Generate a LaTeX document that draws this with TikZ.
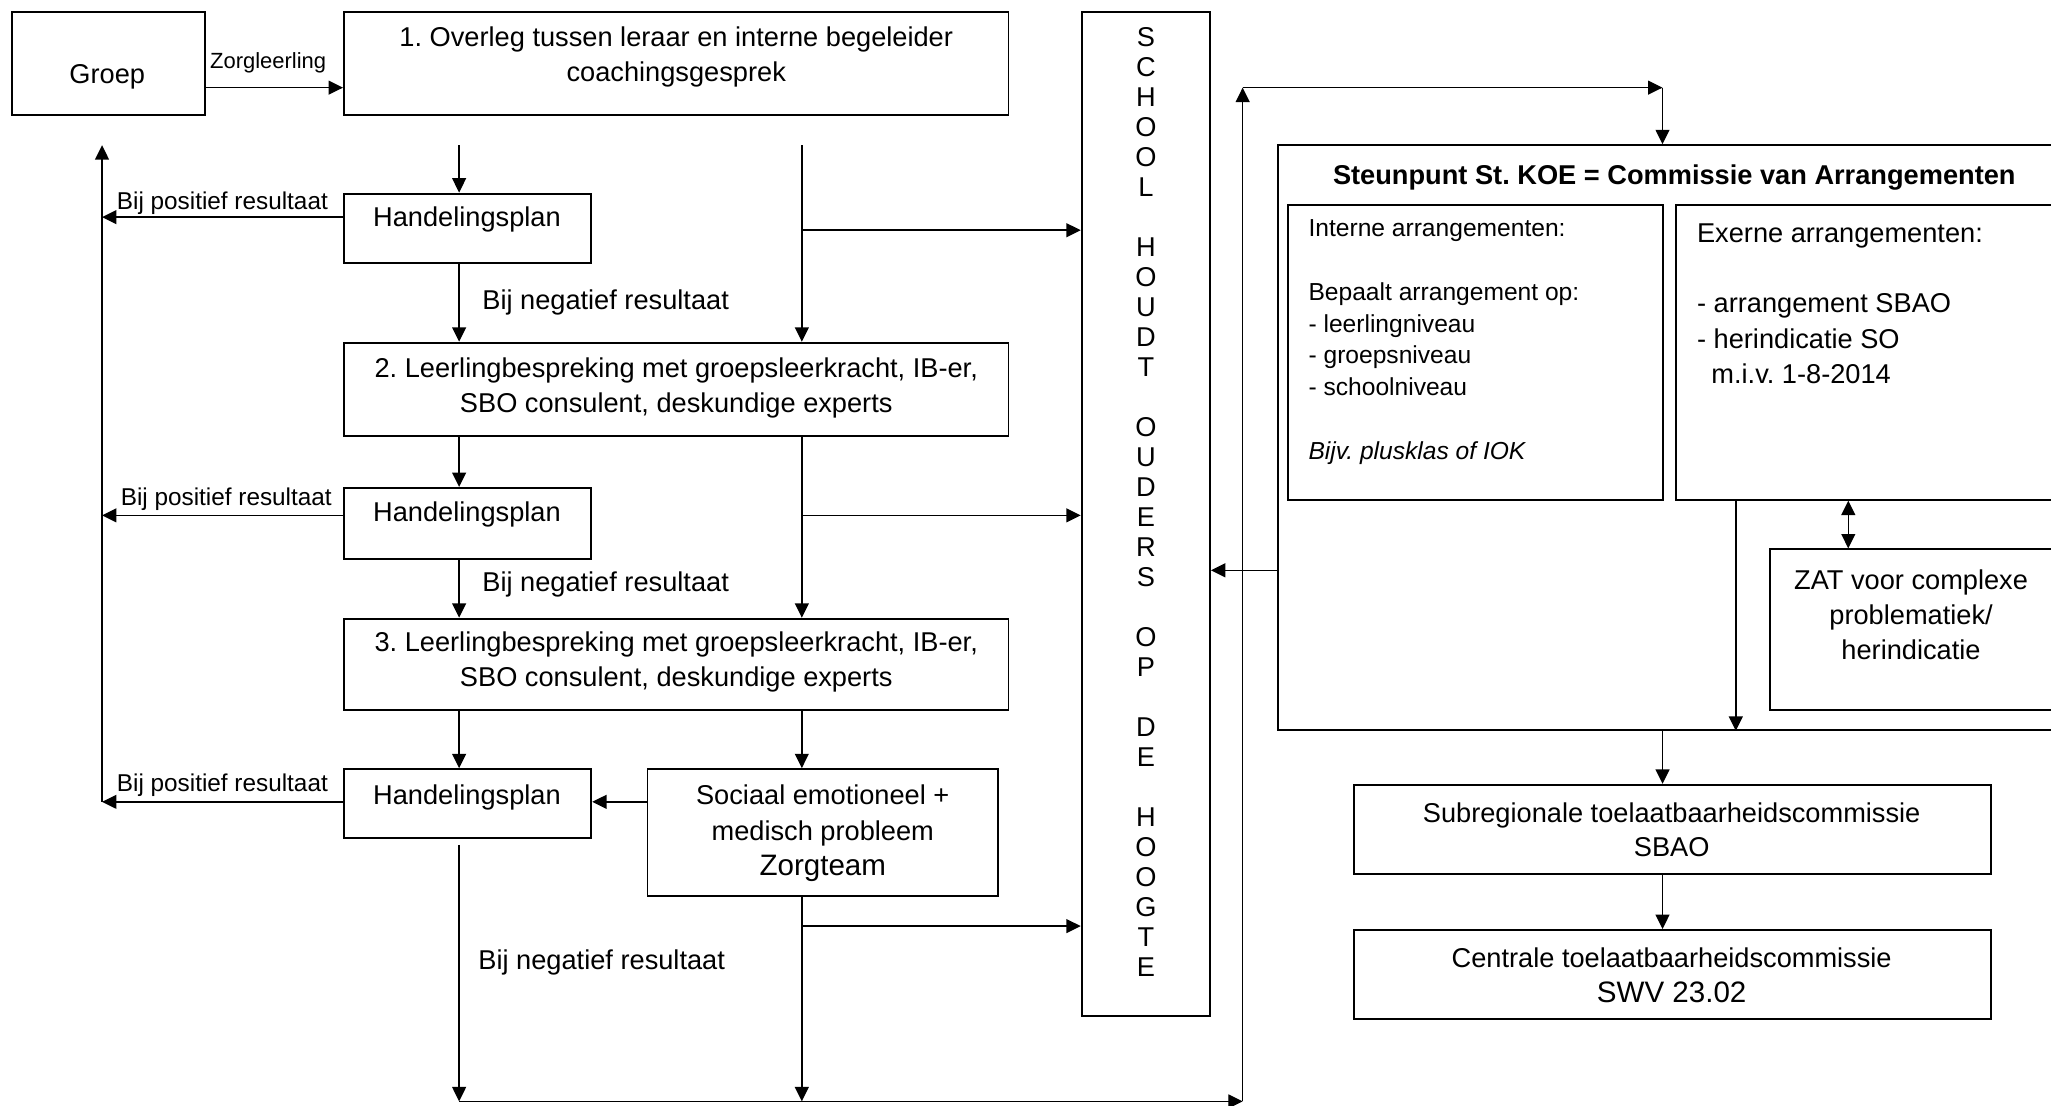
\documentclass[tikz,border=0pt]{standalone}
\usepackage{fontspec}
\setmainfont{Liberation Sans}
\usetikzlibrary{arrows.meta,fit}
\frenchspacing
\begin{document}
\frenchspacing
\begin{tikzpicture}[x=0.5pt,y=-0.5pt,
  box/.style={draw, line width=0.75pt, inner sep=0pt},
  arr/.style={-{Triangle[length=5.5pt,width=5.3pt]}, line width=0.55pt},
  darr/.style={{Triangle[length=5.5pt,width=5.3pt]}-{Triangle[length=5.5pt,width=5.3pt]}, line width=0.55pt},
  t/.style={inner sep=0pt, align=center, font=\fontsize{10.4}{13.5}\selectfont},
  tl/.style={inner sep=0pt, align=left, anchor=west},
  small/.style={inner sep=0pt, font=\fontsize{8.4}{10}\selectfont},
  lab/.style={inner sep=0pt, font=\fontsize{9.3}{11}\selectfont}
]
\useasboundingbox (0,0) rectangle (1568,845);
\clip (0,0) rectangle (1568,845);

% left column boxes
\node[box, fit={(9,9)(157,88)}] (groep) {};
\node[t] (groepT) at (82,58.5) {Groep};
\node[box, fit={(263,9)(771,88)}] (b1) {};
\node[t] (b1T) at (517,43.5) {1. Overleg tussen leraar en interne begeleider\\coachingsgesprek};
\node[box, fit={(263,148)(452,201)}] (hp1) {};
\node[t] (hp1T) at (357,167.5) {Handelingsplan};
\node[box, fit={(263,262)(771,333)}] (b2) {};
\node[t] (b2T) at (517,296.5) {2. Leerlingbespreking met groepsleerkracht, IB-er,\\SBO consulent, deskundige experts};
\node[box, fit={(263,373)(452,427)}] (hp2) {};
\node[t] (hp2T) at (357,393.5) {Handelingsplan};
\node[box, fit={(263,473)(771,543)}] (b3) {};
\node[t] (b3T) at (517,506) {3. Leerlingbespreking met groepsleerkracht, IB-er,\\SBO consulent, deskundige experts};
\node[box, fit={(263,588)(452,641)}] (hp3) {};
\node[t] (hp3T) at (357,609.5) {Handelingsplan};
\node[box, fit={(495,588)(763,685)}] (zorg) {};
\node[t] (zorgT) at (629,637) {Sociaal emotioneel +\\medisch probleem\\{\fontsize{11.3}{13.5}\selectfont Zorgteam}};

% school column
\node[box, fit={(827,9)(925,777)}] (school) {};
\node[t, font=\fontsize{10.4}{11.47}\selectfont] (schoolT) at (876,383.5)
  {S\\C\\H\\O\\O\\L\\[11.47pt]H\\O\\U\\D\\T\\[11.47pt]O\\U\\D\\E\\R\\S\\[11.47pt]O\\P\\[11.47pt]D\\E\\[11.47pt]H\\O\\O\\G\\T\\E};

% right part
\node[box, fit={(977,111)(1580,558)}] (steun) {};
\node[t] (steunT) at (1280,135.5) {\bfseries Steunpunt St. KOE = Commissie van Arrangementen};
\node[box, fit={(985,157)(1271,382)}] (int) {};
\node[tl, font=\fontsize{9.4}{12.15}\selectfont] (intT) at (1000,261.5)
  {Interne arrangementen:\\[12.15pt]Bepaalt arrangement op:\\- leerlingniveau\\- groepsniveau\\- schoolniveau\\[12.15pt]\textit{Bijv. plusklas of IOK}};
\node[box, fit={(1281,157)(1580,382)}] (ext) {};
\node[tl, font=\fontsize{10.4}{13.5}\selectfont] (extT) at (1297,232)
  {Exerne arrangementen:\\[13.5pt]- arrangement SBAO\\- herindicatie SO\\\hspace*{5.5pt}m.i.v. 1-8-2014};
\node[box, fit={(1353,420)(1580,543)}] (zat) {};
\node[t, font=\fontsize{10.4}{13.25}\selectfont] (zatT) at (1461,470) {ZAT voor complexe\\problematiek/\\herindicatie};
\node[box, fit={(1035,600)(1522,668)}] (sub) {};
\node[t, font=\fontsize{10.4}{13}\selectfont] (subT) at (1278,634) {Subregionale toelaatbaarheidscommissie\\SBAO};
\node[box, fit={(1035,711)(1522,779)}] (cen) {};
\node[t] (cenT) at (1278,745.5) {Centrale toelaatbaarheidscommissie\\{\fontsize{11.3}{13.5}\selectfont SWV 23.02}};

% coordinates
\coordinate (s1) at (351,111);
\coordinate (s2) at (613,111);
\coordinate (lt) at (78,111);
\coordinate (lb) at (78,613);
\coordinate (hb) at (351,646);
\coordinate (bl) at (351,842);
\coordinate (bm) at (613,842);
\coordinate (br) at (950,842);
\coordinate (tr) at (950,67);
\coordinate (tc) at (1271,67);

% labels
\node[small] (zl) at (205,48) {Zorgleerling};
\node[lab] (pos1) at (170,155) {Bij positief resultaat};
\node[lab] (pos2) at (173,382) {Bij positief resultaat};
\node[lab] (pos3) at (170,600) {Bij positief resultaat};
\node[t] (neg1) at (463,231) {Bij negatief resultaat};
\node[t] (neg2) at (463,447) {Bij negatief resultaat};
\node[t] (neg3) at (460,736) {Bij negatief resultaat};

% connectors left
\draw[arr] (groep.east |- 0,67) -- (b1.west |- 0,67);
\draw[arr] (s1) -- (351,0 |- hp1.north);
\draw[arr] (s2) -- (613,0 |- b2.north);
\draw[arr] (613,176) -- (school.west |- 0,176);
\draw[arr] (hp1.west |- 0,166) -- (78,166);
\draw[arr] (351,0 |- hp1.south) -- (351,0 |- b2.north);
\draw[arr] (351,0 |- b2.south) -- (351,0 |- hp2.north);
\draw[arr] (613,0 |- b2.south) -- (613,0 |- b3.north);
\draw[arr] (613,394) -- (school.west |- 0,394);
\draw[arr] (hp2.west |- 0,394) -- (78,394);
\draw[arr] (351,0 |- hp2.south) -- (351,0 |- b3.north);
\draw[arr] (351,0 |- b3.south) -- (351,0 |- hp3.north);
\draw[arr] (613,0 |- b3.south) -- (613,0 |- zorg.north);
\draw[arr] (hp3.west |- 0,613) -- (lb);
\draw[arr] (lb) -- (lt);
\draw[arr] (zorg.west |- 0,613) -- (hp3.east |- 0,613);
\draw[arr] (hb) -- (bl);
\draw[arr] (613,0 |- zorg.south) -- (bm);
\draw[arr] (613,708) -- (school.west |- 0,708);
\draw[arr] (bl) -- (br);
\draw[arr] (br) -- (tr);
\draw[arr] (tr) -- (tc);
\draw[arr] (tc) -- (1271,0 |- steun.north);

% connectors right
\draw[arr] (steun.west |- 0,436) -- (school.east |- 0,436);
\draw[darr] (1413,0 |- ext.south) -- (1413,0 |- zat.north);
\draw[arr] (1327,0 |- ext.south) -- (1327,0 |- steun.south);
\draw[arr] (1271,0 |- steun.south) -- (1271,0 |- sub.north);
\draw[arr] (1271,0 |- sub.south) -- (1271,0 |- cen.north);
\end{tikzpicture}
\end{document}
